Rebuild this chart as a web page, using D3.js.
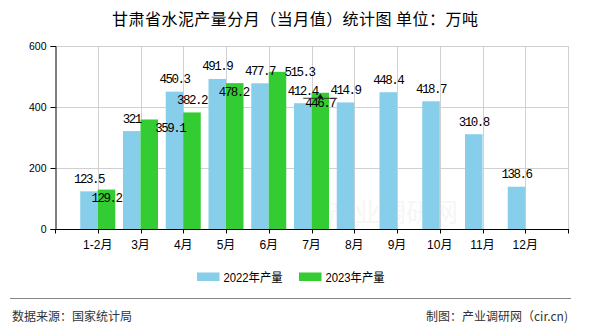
<!DOCTYPE html>
<html>
<head>
<meta charset="utf-8">
<script src="https://cdn.jsdelivr.net/npm/d3@7/dist/d3.min.js"></script>
<style>
  html, body { margin: 0; padding: 0; background: #fff; }
  svg { display: block; }
</style>
</head>
<body>
<svg id="chart" width="590" height="330"></svg>
<script>
// ---- data ----
const title = "甘肃省水泥产量分月（当月值）统计图 单位：万吨";
const categories = ["1-2月", "3月", "4月", "5月", "6月", "7月", "8月", "9月", "10月", "11月", "12月"];
const seriesNames = ["2022年产量", "2023年产量"];
const values2022 = [123.5, 321, 450.3, 491.9, 477.7, 412.4, 414.9, 448.4, 418.7, 310.8, 138.6];
const values2023 = [129.2, 359.1, 382.2, 478.2, 515.3, 446.7];
const yTicks = [0, 200, 400, 600];
const sourceText = "数据来源：国家统计局";
const creditText = "制图：产业调研网（cir.cn)";
const watermarkText = "产业调研网";

// ---- layout ----
const svg = d3.select("#chart");
const colors = ["#87CEEB", "#33CC33"];
const plotL = 55, plotR = 568, plotT = 46, plotB = 229;
const step = (plotR - plotL) / (categories.length + 1);
const barW = 17.5;

const x = d3.scalePoint().domain(categories).range([plotL + step, plotR - step]);
const y = d3.scaleLinear().domain([0, 600]).range([plotB, plotT]);
const boundaries = d3.range(categories.length + 2).map(k => plotL + k * step);

// watermark
svg.append("text")
  .attr("x", 393).attr("y", 222)
  .attr("text-anchor", "middle")
  .attr("font-family", "'Noto Sans CJK SC'")
  .attr("font-size", 26)
  .attr("fill", "#e6e6e6")
  .attr("opacity", 0.35)
  .text(watermarkText);

// horizontal grid
svg.append("g").selectAll("line").data(yTicks.filter(d => d > 0)).join("line")
  .attr("x1", plotL).attr("x2", plotR)
  .attr("y1", d => y(d) + 0.5).attr("y2", d => y(d) + 0.5)
  .attr("stroke", "#d0d0d0").attr("stroke-width", 1);

// vertical grid
svg.append("g").selectAll("line").data(boundaries.slice(1)).join("line")
  .attr("x1", d => Math.round(d) + 0.5).attr("x2", d => Math.round(d) + 0.5)
  .attr("y1", plotT).attr("y2", plotB)
  .attr("stroke", "#d0d0d0").attr("stroke-width", 1);

// bars
svg.append("g").selectAll("rect").data(values2022).join("rect")
  .attr("x", (d, i) => x(categories[i]) - barW)
  .attr("y", d => y(d))
  .attr("width", barW)
  .attr("height", d => plotB - y(d))
  .attr("fill", colors[0]);

svg.append("g").selectAll("rect").data(values2023).join("rect")
  .attr("x", (d, i) => x(categories[i]))
  .attr("y", d => y(d))
  .attr("width", barW)
  .attr("height", d => plotB - y(d))
  .attr("fill", colors[1]);

// axes
const yAxis = d3.axisLeft(y).tickValues(yTicks).tickSize(5).tickPadding(4).tickFormat(d3.format("d"));
const gy = svg.append("g").attr("transform", `translate(${plotL + 0.5},0)`).call(yAxis);
gy.select(".domain").attr("stroke", "#000");
gy.selectAll(".tick line").attr("stroke", "#000");
gy.selectAll(".tick text")
  .attr("font-family", "'Liberation Sans', Arial, sans-serif")
  .attr("font-size", 10.5).attr("fill", "#000");

const xAxisG = svg.append("g").attr("transform", `translate(0,${plotB + 0.5})`);
xAxisG.append("line").attr("x1", plotL).attr("x2", plotR + 1).attr("stroke", "#000");
xAxisG.selectAll("line.tk").data(boundaries).join("line")
  .attr("class", "tk")
  .attr("x1", d => Math.round(d) + 0.5).attr("x2", d => Math.round(d) + 0.5)
  .attr("y1", 0).attr("y2", 4).attr("stroke", "#000");
xAxisG.selectAll("text").data(categories).join("text")
  .attr("x", d => x(d)).attr("y", 19)
  .attr("text-anchor", "middle")
  .attr("font-family", "'Liberation Sans', 'Noto Sans CJK SC', sans-serif")
  .attr("font-size", 12).attr("fill", "#000")
  .text(d => d);

// value labels
const labelFont = "'Liberation Mono', 'DejaVu Sans Mono', monospace";
svg.append("g").selectAll("text").data(values2022).join("text")
  .attr("x", (d, i) => x(categories[i]) - barW / 2)
  .attr("y", d => y(d) - 8.5)
  .attr("text-anchor", "middle")
  .attr("font-family", labelFont).attr("font-size", 12.5)
  .attr("letter-spacing", "-1.5px")
  .attr("fill", "#000")
  .text(d => d);

// label nudges for 2023 (placement of the original renderer)
const labelShift23 = [[0, 12], [21, 13], [0, -8.5], [-1, 12.5], [22, 4], [0, 14.5]];
svg.append("g").selectAll("text").data(values2023).join("text")
  .attr("x", (d, i) => x(categories[i]) + barW / 2 + labelShift23[i][0])
  .attr("y", (d, i) => y(d) + labelShift23[i][1])
  .attr("text-anchor", "middle")
  .attr("font-family", labelFont).attr("font-size", 12.5)
  .attr("letter-spacing", "-1.5px")
  .attr("fill", "#000")
  .text(d => d);

// small marker over the last 2023 bar
const mi = values2023.length - 1;
const mx = x(categories[mi]) + barW / 2, my = y(values2023[mi]) + 5.5;
svg.append("line").attr("x1", mx - 17).attr("x2", mx + 17).attr("y1", my).attr("y2", my)
  .attr("stroke", "#333").attr("stroke-width", 1);
svg.append("path").attr("d", `M${mx - 3},${my} L${mx},${my - 4.5} L${mx + 3},${my} Z`).attr("fill", "#111");

// title
svg.append("text")
  .attr("x", 295).attr("y", 25)
  .attr("text-anchor", "middle")
  .attr("font-family", "'Noto Sans CJK SC', sans-serif")
  .attr("font-size", 16).attr("fill", "#000")
  .attr("textLength", 366).attr("lengthAdjust", "spacing")
  .text(title);

// legend
const legendX = [197, 299];
const lg = svg.append("g");
seriesNames.forEach((name, i) => {
  lg.append("rect").attr("x", legendX[i]).attr("y", 272.5).attr("width", 22.5).attr("height", 8.5).attr("fill", colors[i]);
  lg.append("text").attr("x", legendX[i] + 26.5).attr("y", 282)
    .attr("font-family", "'Liberation Sans', 'Noto Sans CJK SC', sans-serif")
    .attr("font-size", 12.5).attr("fill", "#000")
    .attr("textLength", 59).attr("lengthAdjust", "spacingAndGlyphs")
    .text(name);
});

// footer
svg.append("line").attr("x1", 10).attr("x2", 571).attr("y1", 298.5).attr("y2", 298.5)
  .attr("stroke", "#858585").attr("stroke-width", 1.2);
svg.append("text").attr("x", 12).attr("y", 321)
  .attr("font-family", "'Noto Sans CJK SC', sans-serif")
  .attr("font-size", 12).attr("fill", "#333")
  .text(sourceText);
svg.append("text").attr("x", 568).attr("y", 321)
  .attr("text-anchor", "end")
  .attr("font-family", "'Noto Sans CJK SC', sans-serif")
  .attr("font-size", 12).attr("fill", "#333")
  .text(creditText);
</script>
</body>
</html>
